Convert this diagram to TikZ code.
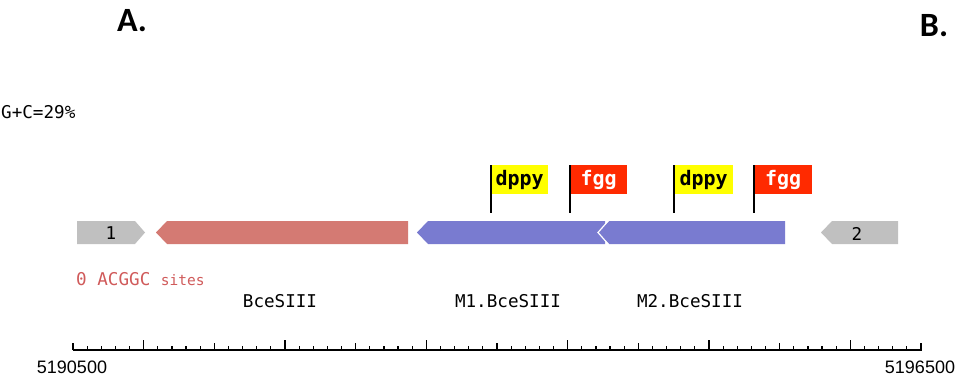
\documentclass[tikz,border=0pt]{standalone}
\usepackage{fontspec}
\setmainfont{Liberation Sans}
\newfontfamily\monofnt{DejaVu Sans Mono}
\newfontfamily\headfnt{Carlito}
\usetikzlibrary{positioning}

\definecolor{genered}{HTML}{D47A73}
\definecolor{geneblue}{HTML}{797BD0}
\definecolor{genegray}{HTML}{C0C0C0}
\definecolor{flagyellow}{HTML}{FFFF00}
\definecolor{flagred}{HTML}{FF2A00}
\definecolor{sitered}{HTML}{D05A5A}

\tikzset{
  genelbl/.style={font=\monofnt\fontsize{17.6}{17.6}\selectfont,inner sep=0pt},
  flagbox/.style={anchor=north west,minimum width=57pt,minimum height=29pt,inner sep=0pt,
    font=\monofnt\bfseries\fontsize{20}{20}\selectfont},
  pole/.style={line width=1.4pt,black},
  tick/.style={line width=1.2pt,black},
  axislbl/.style={font=\fontsize{18}{18}\selectfont,inner sep=0pt},
  headlbl/.style={font=\headfnt\bfseries\fontsize{34}{34}\selectfont,inner sep=0pt}
}

\begin{document}
\begin{tikzpicture}[line cap=butt,line join=miter,x=1pt,y=-1pt]
\useasboundingbox (0,0) rectangle (958,377);
\fill[white] (0,0) rectangle (958,377);

\node[headlbl] (hA) at (132,21) {A.};
\node[headlbl] (hB) at (934,26) {B.};
\node[genelbl,anchor=west] (gc) at (1,112) {G+C=29\%};

% genes
\fill[genegray] (77,221) -- (135,221) -- (145,232.5) -- (135,244) -- (77,244) -- cycle;
\fill[genered] (156,232.5) -- (167,221) -- (408,221) -- (408,244) -- (167,244) -- cycle;
\fill[geneblue] (417,232.5) -- (428,221) -- (605,221) -- (605,244) -- (428,244) -- cycle;
\fill[geneblue] (598,232.5) -- (609,221) -- (785,221) -- (785,244) -- (609,244) -- cycle;
\draw[white,line width=1.2pt] (609,220) -- (598,232.5) -- (609,245);
\fill[genegray] (821,232.5) -- (832,221) -- (898,221) -- (898,244) -- (832,244) -- cycle;
\node[genelbl] (g1) at (111,233.5) {1};
\node[genelbl] (g2) at (857,233.5) {2};

% flags
\node[flagbox,fill=flagyellow] (dp1) at (491,165) {dppy};
\node[flagbox,fill=flagred,text=white] (fg1) at (570,165) {fgg};
\node[flagbox,fill=flagyellow,minimum width=59pt] (dp2) at (674,165) {dppy};
\node[flagbox,fill=flagred,text=white,minimum width=58pt] (fg2) at (754,165) {fgg};
\foreach \f in {dp1,fg1,dp2,fg2}
  \draw[pole] (\f.north west) -- ++(0,48);

% labels
\node[genelbl,anchor=west,text=sitered] (sites) at (76,279)
  {0 ACGGC {\fontsize{14.5}{14.5}\selectfont sites}};
\node[genelbl] (bce) at (280,301) {BceSIII};
\node[genelbl] (m1) at (508,301) {M1.BceSIII};
\node[genelbl] (m2) at (690,301) {M2.BceSIII};

% scale
\draw[line width=1.5pt] (73,350) -- (921.5,350);
\foreach \i in {0,...,60}{
  \pgfmathtruncatemacro\r{mod(\i,10)}
  \ifnum\r=5 \def\h{10}\else\ifnum\r=0 \def\h{7}\else\def\h{4}\fi\fi
  \draw[tick] (73+\i*14.1333,350) -- ++(0,-\h);
}
\node[axislbl] (lo) at (72,367) {5190500};
\node[axislbl] (hi) at (920,367) {5196500};
\end{tikzpicture}
\end{document}
